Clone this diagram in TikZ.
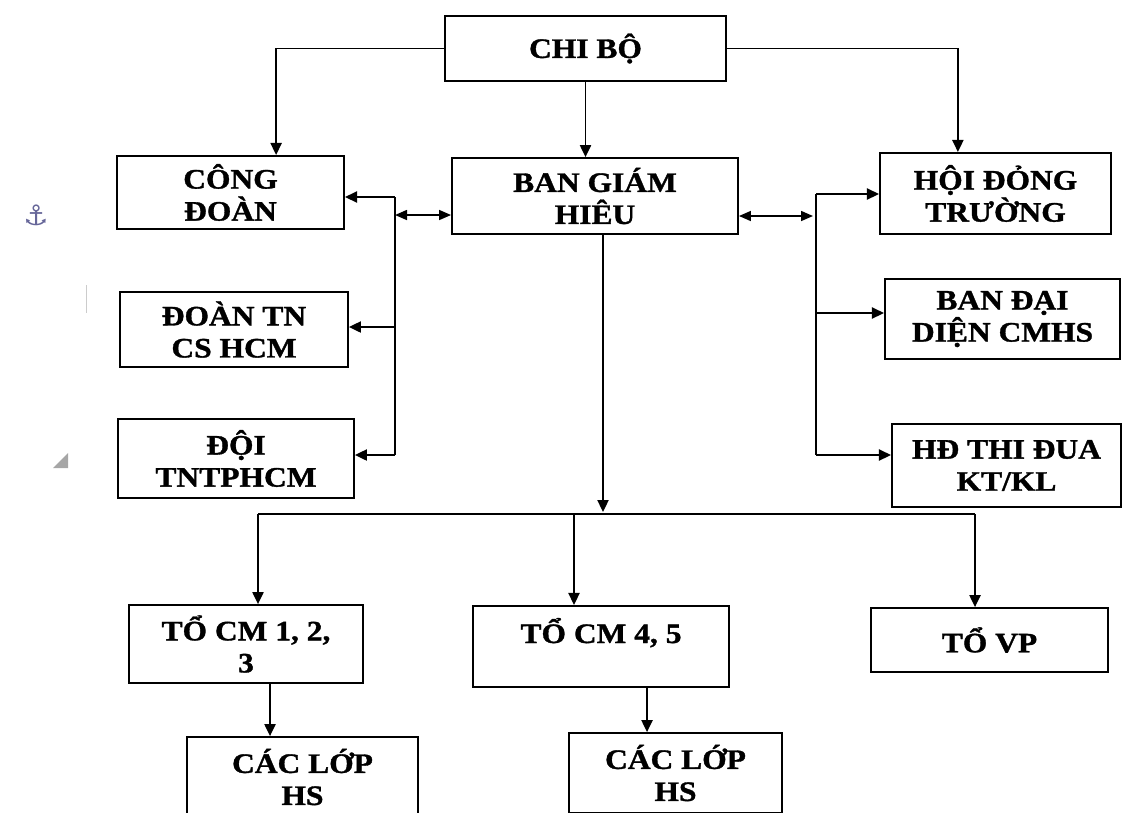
\documentclass[tikz,border=0pt]{standalone}
\usepackage{fontspec}
\setmainfont[FakeStretch=1.12, BoldFeatures={FakeBold=1.2}]{Liberation Serif}
\newfontfamily\markfont{DejaVu Sans}
\usetikzlibrary{arrows.meta}

\begin{document}
\begin{tikzpicture}[
    x=0.025cm, y=-0.025cm,
    unit/.style={draw, line width=1.3pt, inner sep=0pt, align=center,
        font=\fontsize{20}{22.8}\selectfont\bfseries},
    arrow/.style={-{Triangle[length=0.3cm, width=0.28cm]}, line width=1.1pt},
    twoway/.style={{Triangle[length=0.3cm, width=0.25cm]}-{Triangle[length=0.3cm, width=0.25cm]}, line width=1.1pt},
    link/.style={line width=1.1pt},
]
\useasboundingbox (0,0) rectangle (1123,812);
\clip (0,0) rectangle (1123,812);

% Top level
\node[unit, minimum width=7.03cm, minimum height=1.63cm] (chibo) at (585.5, 48.5) {CHI BỘ};

% Second level
\node[unit, minimum width=5.68cm, minimum height=1.83cm] (congdoan) at (230.5, 192.5) {CÔNG\\ĐOÀN};
\node[unit, minimum width=7.15cm, minimum height=1.9cm] (bgh) at (595, 196) {BAN GIÁM\\HIÊU};
\node[unit, minimum width=5.78cm, minimum height=2.03cm] (hdt) at (995.5, 193.5) {HỘI ĐỎNG\\TRƯỜNG};

% Left column
\node[unit, minimum width=5.7cm, minimum height=1.88cm] (doantn) at (234, 329.5) {ĐOÀN TN\\CS HCM};
\node[unit, minimum width=5.9cm, minimum height=1.98cm] (doi) at (236, 458.5) {ĐỘI\\TNTPHCM};

% Right column
\node[unit, minimum width=5.88cm, minimum height=2cm] (daidien) at (1002.5, 319) {BAN ĐẠI\\DIỆN CMHS};
\node[unit, minimum width=5.73cm, minimum height=2.08cm] (thidua) at (1006.5, 465.5) {HĐ THI ĐUA\\KT/KL};

% Groups
\node[unit, minimum width=5.85cm, minimum height=1.95cm] (tocm1) at (246, 644) {TỔ CM 1, 2,\\3};
\node[unit, minimum width=6.4cm, minimum height=2.03cm] (tocm4) at (601, 646.5) {TỔ CM 4, 5\\~};
\node[unit, minimum width=5.93cm, minimum height=1.6cm] (tovp) at (989.5, 640) {TỔ VP};

% Classes
\node[unit, minimum width=5.78cm, minimum height=2cm] (lop1) at (302.5, 777) {CÁC LỚP\\HS};
\node[unit, minimum width=5.33cm, minimum height=2cm] (lop2) at (675.5, 773) {CÁC LỚP\\HS};

% Chi bo to second level
\draw[arrow] (chibo.west) -| ([xshift=1.14cm]congdoan.north);
\draw[arrow] (chibo.south) -- (chibo.south |- bgh.north);
\draw[arrow] (chibo.east) -| ([xshift=-0.94cm]hdt.north);

% Left bus
\coordinate (ltop) at (395, 197);
\coordinate (lmid) at (395, 215);
\coordinate (ldoan) at (395, 327);
\coordinate (lbot) at (395, 455);
\draw[link] (ltop) -- (lbot);
\draw[arrow] (ltop) -- (ltop -| congdoan.east);
\draw[twoway] (lmid) -- (lmid -| bgh.west);
\draw[arrow] (ldoan) -- (ldoan -| doantn.east);
\draw[arrow] (lbot) -- (lbot -| doi.east);

% Right bus
\coordinate (rtop) at (816, 194);
\coordinate (rmid) at (813, 216);
\coordinate (rdd) at (816, 313);
\coordinate (rbot) at (816, 455);
\draw[link] (rtop) -- (rbot);
\draw[arrow] (rtop) -- (rtop -| hdt.west);
\draw[twoway] (rmid -| bgh.east) -- (rmid);
\draw[arrow] (rdd) -- (rdd -| daidien.west);
\draw[arrow] (rbot) -- (rbot -| thidua.west);

% Bar to the groups
\coordinate (bl) at (258, 514);
\coordinate (bm) at (574, 514);
\coordinate (bc) at (603, 512);
\coordinate (br) at (975, 514);
\draw[arrow] ([xshift=0.2cm]bgh.south) -- (bc);
\draw[link] (bl) -- (br);
\draw[arrow] (bl) -- (bl |- tocm1.north);
\draw[arrow] (bm) -- (bm |- tocm4.north);
\draw[arrow] (br) -- (br |- tovp.north);

% Groups to classes
\draw[arrow] ([xshift=0.6cm]tocm1.south) -- ([xshift=0.6cm]tocm1.south |- lop1.north);
\draw[arrow] ([xshift=1.15cm]tocm4.south) -- ([xshift=1.15cm]tocm4.south |- lop2.north);

% Page marks
\node[text=gray!80!blue, font=\markfont\fontsize{20}{20}\selectfont] (anchor) at (36, 215) {⚓};
\draw[gray!40, line width=0.6pt] (86, 285) -- (86, 313);
\fill[gray!70] (53, 468) -- (68, 453) -- (68, 468) -- cycle;

\end{tikzpicture}
\end{document}
